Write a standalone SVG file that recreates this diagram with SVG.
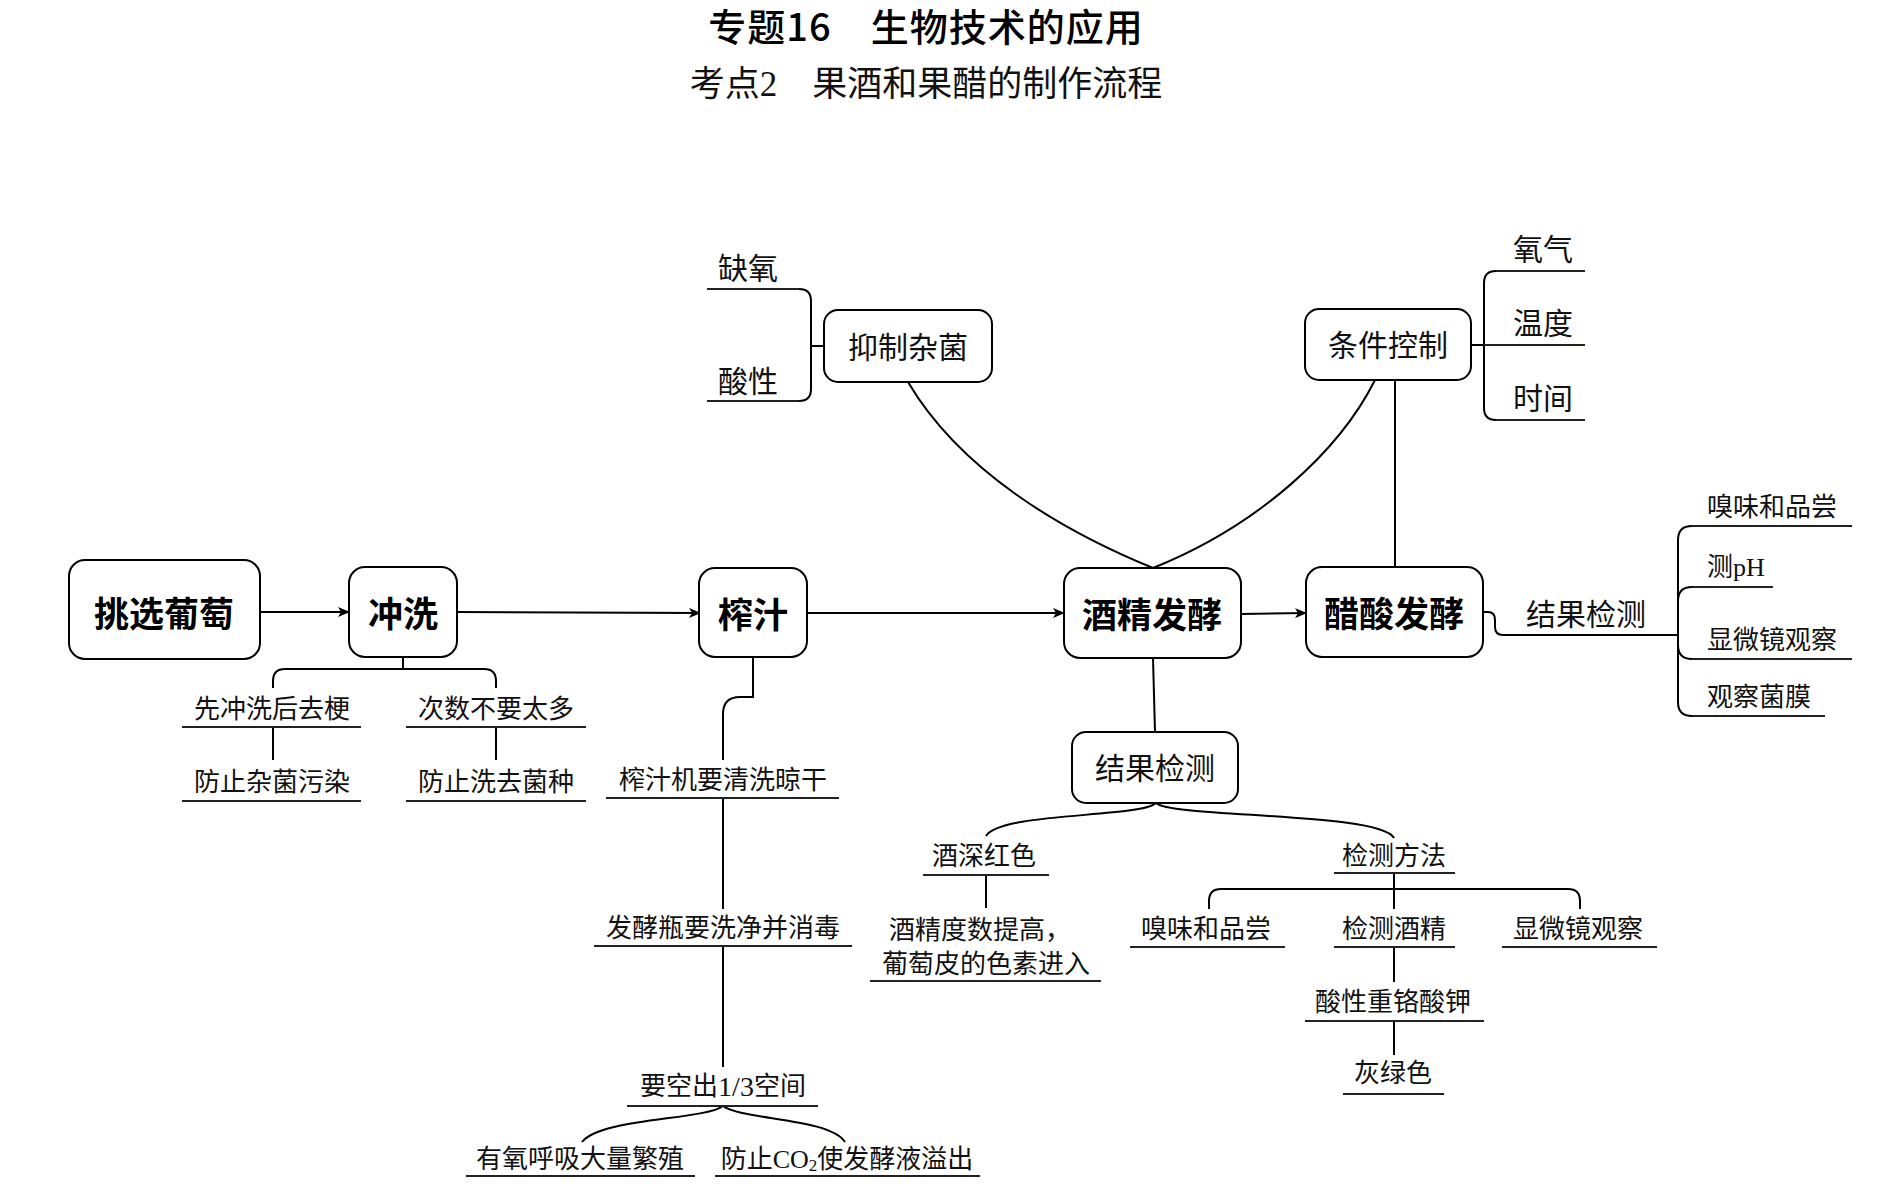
<svg xmlns="http://www.w3.org/2000/svg" width="1901" height="1188" viewBox="0 0 1901 1188">
<style>
.box{fill:#fff;stroke:#000;stroke-width:2}
.ln{fill:none;stroke:#000;stroke-width:2}
.ul{fill:none;stroke:#222;stroke-width:2}
.bt{font-family:"Noto Sans CJK SC",sans-serif;font-weight:700;font-size:35px;text-anchor:middle;dominant-baseline:central;fill:#000}
.nt{font-family:"Noto Sans CJK SC",sans-serif;font-size:30px;text-anchor:middle;dominant-baseline:central;fill:#111}
.lb{font-family:"Liberation Serif","Noto Sans CJK SC",serif;font-size:26px;text-anchor:middle;dominant-baseline:central;fill:#111}
.ls{text-anchor:start}
</style>
<defs>
<marker id="ar" viewBox="0 0 12 10" refX="11" refY="5" markerWidth="12" markerHeight="10" markerUnits="userSpaceOnUse" orient="auto">
<path d="M0,0 L12,5 L0,10 L3,5 z" fill="#000"/>
</marker>
</defs>
<rect width="1901" height="1188" fill="#fff"/>

<g id="title">
<text x="926" y="24" font-family="Noto Sans CJK SC,sans-serif" font-weight="500" font-size="38" letter-spacing="1" text-anchor="middle" dominant-baseline="central" fill="#000">专题16　生物技术的应用</text>
<text x="926" y="84" font-family="Liberation Serif,Noto Sans CJK SC,serif" font-size="35" text-anchor="middle" dominant-baseline="central" fill="#111">考点2　果酒和果醋的制作流程</text>
</g>

<g id="connectors">
<path class="ln" d="M260,612 L349,612" marker-end="url(#ar)"/>
<path class="ln" d="M457,612 L700,613" marker-end="url(#ar)"/>
<path class="ln" d="M807,613 L1064,613" marker-end="url(#ar)"/>
<path class="ln" d="M1241,614 L1306,613" marker-end="url(#ar)"/>
<path class="ln" d="M908,382 C960,470 1060,530 1153,568"/>
<path class="ln" d="M1375,380 C1340,450 1260,525 1153,568"/>
<path class="ln" d="M1395,380 L1395,567"/>
<path class="ln" d="M811,346 H824"/>
<path class="ln" d="M1471,345 H1484"/>
<path class="ln" d="M1153,658 L1155,732"/>
<path class="ln" d="M1156,803 C1140,818 1000,812 986,836"/>
<path class="ln" d="M1156,803 C1172,818 1380,812 1394,838"/>
<path class="ln" d="M403,657 V669 H285 Q273,669 273,681 V688"/>
<path class="ln" d="M403,669 H484 Q496,669 496,681 V688"/>
<path class="ln" d="M273,727 V760"/>
<path class="ln" d="M496,727 V760"/>
<path class="ln" d="M753,657 V697 H740 Q723,697 723,714 V760"/>
<path class="ln" d="M723,798 V909"/>
<path class="ln" d="M723,946 V1067"/>
<path class="ln" d="M723,1106 C705,1120 600,1118 582,1142"/>
<path class="ln" d="M723,1106 C741,1120 830,1118 845,1142"/>
<path class="ln" d="M986,875 V908"/>
<path class="ln" d="M1394,873 V909"/>
<path class="ln" d="M1394,889 H1221 Q1209,889 1209,901 V909"/>
<path class="ln" d="M1394,889 H1568 Q1580,889 1580,901 V909"/>
<path class="ln" d="M1394,947 V982"/>
<path class="ln" d="M1394,1021 V1055"/>
<path class="ln" d="M1483,612 H1488 Q1495,612 1495,620 V627 Q1495,635 1503,635 H1678"/>
<path class="ln" d="M1678,635 V540 Q1678,526 1692,526"/>
<path class="ln" d="M1678,635 V601 Q1678,587 1692,587"/>
<path class="ln" d="M1678,635 V645 Q1678,659 1692,659"/>
<path class="ln" d="M1678,635 V702 Q1678,716 1692,716"/>
<path class="ln" d="M1484,345 V283 Q1484,271 1496,271"/>
<path class="ln" d="M1484,345 V408 Q1484,420 1496,420"/>
<path class="ln" d="M811,346 V301 Q811,289 799,289"/>
<path class="ln" d="M811,346 V389 Q811,401 799,401"/>
</g>

<g id="n-tiaoxuan"><rect class="box" x="69" y="560" width="191" height="99" rx="16"/><text class="bt" x="164" y="611">挑选葡萄</text></g>
<g id="n-chongxi"><rect class="box" x="349" y="567" width="108" height="90" rx="16"/><text class="bt" x="403" y="611">冲洗</text></g>
<g id="n-zhazhi"><rect class="box" x="699" y="568" width="108" height="89" rx="16"/><text class="bt" x="753" y="612">榨汁</text></g>
<g id="n-jiujing"><rect class="box" x="1064" y="568" width="177" height="90" rx="16"/><text class="bt" x="1152" y="612">酒精发酵</text></g>
<g id="n-cusuan"><rect class="box" x="1306" y="567" width="177" height="90" rx="16"/><text class="bt" x="1394" y="611">醋酸发酵</text></g>
<g id="n-yizhi"><rect class="box" x="824" y="310" width="168" height="72" rx="14"/><text class="nt" x="908" y="345">抑制杂菌</text></g>
<g id="n-tiaojian"><rect class="box" x="1305" y="309" width="166" height="71" rx="14"/><text class="nt" x="1388" y="343">条件控制</text></g>
<g id="n-jieguo1"><rect class="box" x="1072" y="732" width="166" height="71" rx="14"/><text class="nt" x="1155" y="766">结果检测</text></g>

<g id="n-queyang"><text class="nt" x="748" y="266">缺氧</text><path class="ul" d="M707,289 H799"/></g>
<g id="n-suanxing"><text class="nt" x="748" y="379">酸性</text><path class="ul" d="M707,401 H799"/></g>
<g id="n-yangqi"><text class="nt" x="1543" y="247">氧气</text><path class="ul" d="M1496,271 H1585"/></g>
<g id="n-wendu"><text class="nt" x="1543" y="321">温度</text><path class="ul" d="M1484,345 H1585"/></g>
<g id="n-shijian"><text class="nt" x="1543" y="396">时间</text><path class="ul" d="M1496,420 H1585"/></g>

<g id="n-jieguo2"><text class="nt" x="1586" y="612">结果检测</text></g>
<g id="n-xiuwei2"><text class="lb ls" x="1707" y="507">嗅味和品尝</text><path class="ul" d="M1692,526 H1852"/></g>
<g id="n-ph"><text class="lb ls" x="1707" y="567">测pH</text><path class="ul" d="M1692,587 H1773"/></g>
<g id="n-xianwei2"><text class="lb ls" x="1707" y="640">显微镜观察</text><path class="ul" d="M1692,659 H1852"/></g>
<g id="n-junmo"><text class="lb ls" x="1707" y="697">观察菌膜</text><path class="ul" d="M1692,716 H1825"/></g>

<g id="n-xianchong"><text class="lb" x="272" y="709">先冲洗后去梗</text><path class="ul" d="M182,727 H361"/></g>
<g id="n-fangzhi1"><text class="lb" x="272" y="782">防止杂菌污染</text><path class="ul" d="M182,801 H361"/></g>
<g id="n-cishu"><text class="lb" x="496" y="709">次数不要太多</text><path class="ul" d="M406,727 H586"/></g>
<g id="n-fangzhi2"><text class="lb" x="496" y="782">防止洗去菌种</text><path class="ul" d="M406,801 H586"/></g>

<g id="n-zhazhiji"><text class="lb" x="723" y="780">榨汁机要清洗晾干</text><path class="ul" d="M606,798 H839"/></g>
<g id="n-fajiaoping"><text class="lb" x="723" y="928">发酵瓶要洗净并消毒</text><path class="ul" d="M594,946 H852"/></g>
<g id="n-kongchu"><text class="lb" x="723" y="1086">要空出<tspan font-size="28">1/3</tspan>空间</text><path class="ul" d="M627,1106 H818"/></g>
<g id="n-youyang"><text class="lb" x="580" y="1159">有氧呼吸大量繁殖</text><path class="ul" d="M466,1176 H695"/></g>
<g id="n-co2"><text class="lb" x="847" y="1159">防止CO<tspan font-size="17" dy="6">2</tspan><tspan dy="-6">使发酵液溢出</tspan></text><path class="ul" d="M715,1176 H980"/></g>

<g id="n-shenhong"><text class="lb" x="984" y="856">酒深红色</text><path class="ul" d="M923,875 H1049"/></g>
<g id="n-jiujingdu"><text class="lb" x="980" y="930">酒精度数提高，</text><text class="lb" x="986" y="964">葡萄皮的色素进入</text><path class="ul" d="M870,981 H1101"/></g>

<g id="n-fangfa"><text class="lb" x="1394" y="856">检测方法</text><path class="ul" d="M1334,873 H1455"/></g>
<g id="n-xiuwei1"><text class="lb" x="1206" y="929">嗅味和品尝</text><path class="ul" d="M1130,947 H1285"/></g>
<g id="n-jiancejiujing"><text class="lb" x="1394" y="929">检测酒精</text><path class="ul" d="M1334,947 H1455"/></g>
<g id="n-xianwei1"><text class="lb" x="1578" y="929">显微镜观察</text><path class="ul" d="M1502,947 H1657"/></g>
<g id="n-chongge"><text class="lb" x="1393" y="1002">酸性重铬酸钾</text><path class="ul" d="M1305,1021 H1484"/></g>
<g id="n-huilv"><text class="lb" x="1393" y="1073">灰绿色</text><path class="ul" d="M1343,1094 H1444"/></g>
</svg>
